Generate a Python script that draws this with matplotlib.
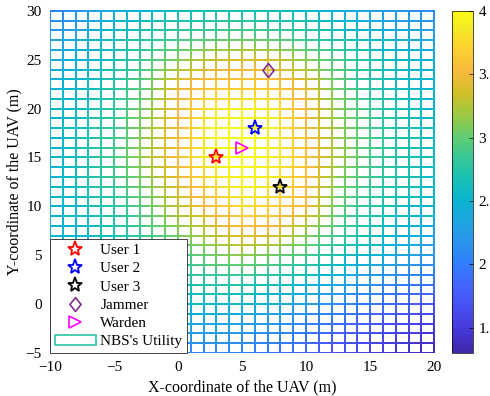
import numpy as np
import matplotlib
matplotlib.use("Agg")
import matplotlib.pyplot as plt
from matplotlib.colors import LinearSegmentedColormap
from matplotlib.path import Path
from matplotlib.patches import Patch
from matplotlib.lines import Line2D
from matplotlib.transforms import IdentityTransform

plt.rcParams['font.family'] = ['Liberation Serif', 'DejaVu Serif']

# ---- data ----
# utility sampled every 2.5 m: columns x = -10 ... 20, rows y = -5 ... 30
x_nodes = [-10, -7.5, -5, -2.5, 0, 2.5, 5, 7.5, 10, 12.5, 15, 17.5, 20]
y_nodes = [-5, -2.5, 0, 2.5, 5, 7.5, 10, 12.5, 15, 17.5, 20, 22.5, 25, 27.5, 30]
utility = [
    [1.90, 1.95, 2.00, 2.05, 2.05, 2.10, 2.05, 1.95, 1.80, 1.65, 1.55, 1.45, 1.35],  # -5
    [2.05, 2.10, 2.20, 2.25, 2.30, 2.30, 2.25, 2.15, 2.00, 1.85, 1.70, 1.58, 1.48],  # -2.5
    [2.20, 2.30, 2.35, 2.45, 2.50, 2.55, 2.50, 2.40, 2.25, 2.10, 1.95, 1.80, 1.70],  # 0
    [2.30, 2.40, 2.50, 2.60, 2.70, 2.80, 2.80, 2.70, 2.55, 2.40, 2.20, 2.05, 1.95],  # 2.5
    [2.40, 2.50, 2.60, 2.75, 2.90, 3.05, 3.15, 3.05, 2.90, 2.70, 2.50, 2.35, 2.20],  # 5
    [2.45, 2.55, 2.70, 2.90, 3.10, 3.30, 3.50, 3.45, 3.15, 2.90, 2.65, 2.50, 2.35],  # 7.5
    [2.45, 2.60, 2.75, 3.00, 3.30, 3.55, 3.80, 3.70, 3.50, 3.00, 2.75, 2.60, 2.50],  # 10
    [2.50, 2.65, 2.85, 3.10, 3.45, 3.75, 3.95, 3.85, 3.55, 3.10, 2.85, 2.70, 2.55],  # 12.5
    [2.50, 2.65, 2.90, 3.20, 3.55, 3.95, 4.00, 3.90, 3.60, 3.20, 2.90, 2.70, 2.60],  # 15
    [2.50, 2.65, 2.85, 3.15, 3.55, 3.90, 4.00, 3.90, 3.55, 3.15, 2.90, 2.70, 2.55],  # 17.5
    [2.50, 2.60, 2.80, 3.10, 3.50, 3.85, 3.90, 3.85, 3.50, 3.10, 2.85, 2.65, 2.50],  # 20
    [2.45, 2.55, 2.75, 3.00, 3.45, 3.60, 3.65, 3.60, 3.40, 3.00, 2.75, 2.60, 2.50],  # 22.5
    [2.35, 2.50, 2.65, 2.90, 3.10, 3.30, 3.40, 3.35, 3.10, 2.90, 2.70, 2.55, 2.45],  # 25
    [2.20, 2.40, 2.60, 2.75, 2.85, 2.90, 2.95, 2.90, 2.80, 2.65, 2.50, 2.40, 2.30],  # 27.5
    [2.00, 2.20, 2.40, 2.50, 2.60, 2.65, 2.65, 2.60, 2.55, 2.45, 2.30, 2.20, 2.10],  # 30
]
mesh_x = np.arange(-10, 21, 1)
mesh_y = np.arange(-5, 31, 1)

users_x = [3, 6, 8]
users_y = [15, 18, 12]
jammer_xy = (7, 24)
warden_xy = (5, 16)

x_ticks = [-10, -5, 0, 5, 10, 15, 20]
y_ticks = [-5, 0, 5, 10, 15, 20, 25, 30]
cb_ticks = [1.5, 2, 2.5, 3, 3.5, 4]
cb_labels = ['1.5', '2', '2.5', '3', '3.5', '4']
vmin, vmax = 1.3, 4.0

# ---- parula colormap ----
par = [
    (0.2422, 0.1504, 0.6603), (0.2706, 0.2147, 0.8364), (0.2813, 0.3006, 0.9414),
    (0.2699, 0.3892, 0.9906), (0.1963, 0.4847, 0.9892), (0.1687, 0.5703, 0.9359),
    (0.1248, 0.6459, 0.8883), (0.0297, 0.7082, 0.8163), (0.0964, 0.7500, 0.7120),
    (0.2161, 0.7843, 0.5923), (0.3909, 0.8029, 0.4354), (0.6174, 0.7876, 0.2612),
    (0.8203, 0.7498, 0.1535), (0.9728, 0.7298, 0.2394), (0.9892, 0.8136, 0.1885),
    (0.9597, 0.9135, 0.1423), (0.9769, 0.9839, 0.0805)]
pos = [i * 4 / 63 for i in range(16)] + [1.0]
parula = LinearSegmentedColormap.from_list('parula', list(zip(pos, par)), N=256)

diamond = Path([(0, 1), (0.8, 0), (0, -1), (-0.8, 0), (0, 1)],
               [Path.MOVETO, Path.LINETO, Path.LINETO, Path.LINETO, Path.CLOSEPOLY])

fig = plt.figure(figsize=(4.9, 3.96), dpi=100)
ax = fig.add_axes([0.102, 0.1086, 0.784, 0.864])
ax.set_xlim(-10, 20)
ax.set_ylim(-5, 30)

dx = x_nodes[1] - x_nodes[0]
dy = y_nodes[1] - y_nodes[0]
im = ax.imshow(np.array(utility), origin='lower', cmap=parula, vmin=vmin, vmax=vmax,
               extent=[x_nodes[0] - dx / 2, x_nodes[-1] + dx / 2,
                       y_nodes[0] - dy / 2, y_nodes[-1] + dy / 2],
               interpolation='bilinear', interpolation_stage='data',
               aspect='auto', zorder=1)

# clip the colour field to 2-px mesh lines (in pixel space)
fig.canvas.draw()
T = ax.transData
px_x = [T.transform((v, 0))[0] for v in mesh_x]
px_y = [T.transform((0, v))[1] for v in mesh_y]
x0p, x1p = round(px_x[0]) - 1, round(px_x[-1]) + 1
y0p, y1p = round(px_y[0]) - 1, round(px_y[-1]) + 1
verts, codes = [], []
def rect(a0, b0, a1, b1):
    verts.extend([(a0, b0), (a1, b0), (a1, b1), (a0, b1), (a0, b0)])
    codes.extend([Path.MOVETO, Path.LINETO, Path.LINETO, Path.LINETO, Path.CLOSEPOLY])
for p in px_x:
    l = round(p) - 1
    rect(l, y0p, l + 2, y1p)
for p in px_y:
    b = round(p) - 1
    rect(x0p, b, x1p, b + 2)
im.set_clip_path(Path(verts, codes), IdentityTransform())
im.set_clip_box(None)

ms = 11
jam_c = (0.49, 0.18, 0.56)
ax.plot(users_x[0], users_y[0], marker='*', ls='none', mfc='none', mec='red', ms=ms, mew=1.3, zorder=3)
ax.plot(users_x[1], users_y[1], marker='*', ls='none', mfc='none', mec='blue', ms=ms, mew=1.3, zorder=3)
ax.plot(users_x[2], users_y[2], marker='*', ls='none', mfc='none', mec='black', ms=ms, mew=1.3, zorder=3)
ax.plot(*jammer_xy, marker=diamond, ls='none', mfc='none', mec=jam_c, ms=10, mew=1.2, zorder=3)
ax.plot(*warden_xy, marker='>', ls='none', mfc='none', mec=(1, 0, 1), ms=8, mew=1.2, zorder=3)

ax.set_xticks(x_ticks)
ax.set_yticks(y_ticks)
ax.tick_params(length=0, labelsize=11, pad=6)
for s in ax.spines.values():
    s.set_visible(False)
ax.set_xlabel('X-coordinate of the UAV (m)', fontsize=11.5, labelpad=4)
ax.set_ylabel('Y-coordinate of the UAV (m)', fontsize=11.5, labelpad=2)

handles = [
    Line2D([], [], marker='*', ls='none', mfc='none', mec='red', ms=ms, mew=1.3),
    Line2D([], [], marker='*', ls='none', mfc='none', mec='blue', ms=ms, mew=1.3),
    Line2D([], [], marker='*', ls='none', mfc='none', mec='black', ms=ms, mew=1.3),
    Line2D([], [], marker=diamond, ls='none', mfc='none', mec=jam_c, ms=10, mew=1.2),
    Line2D([], [], marker='>', ls='none', mfc='none', mec=(1, 0, 1), ms=8, mew=1.2),
    Patch(facecolor='white', edgecolor=parula(0.55), linewidth=1.2),
]
labels = ['User 1', 'User 2', 'User 3', 'Jammer', 'Warden', "NBS's Utility"]
leg = ax.legend(handles, labels, loc='lower left', bbox_to_anchor=(0, 0), borderaxespad=0,
                fontsize=11, fancybox=False, framealpha=1, edgecolor='0.15',
                labelspacing=0.3, handlelength=2.7, handletextpad=0.3, borderpad=0.3)
leg.get_frame().set_linewidth(0.6)
leg.set_zorder(5)

cax = fig.add_axes([0.922, 0.1086, 0.043, 0.864])
cb = fig.colorbar(im, cax=cax)
cb.set_ticks(cb_ticks)
cb.ax.tick_params(direction='in', length=3, width=0.5, labelsize=11, pad=4)
cb.outline.set_linewidth(0.5)
cb.ax.set_yticklabels(cb_labels)

fig.savefig('out.png', dpi=100)
